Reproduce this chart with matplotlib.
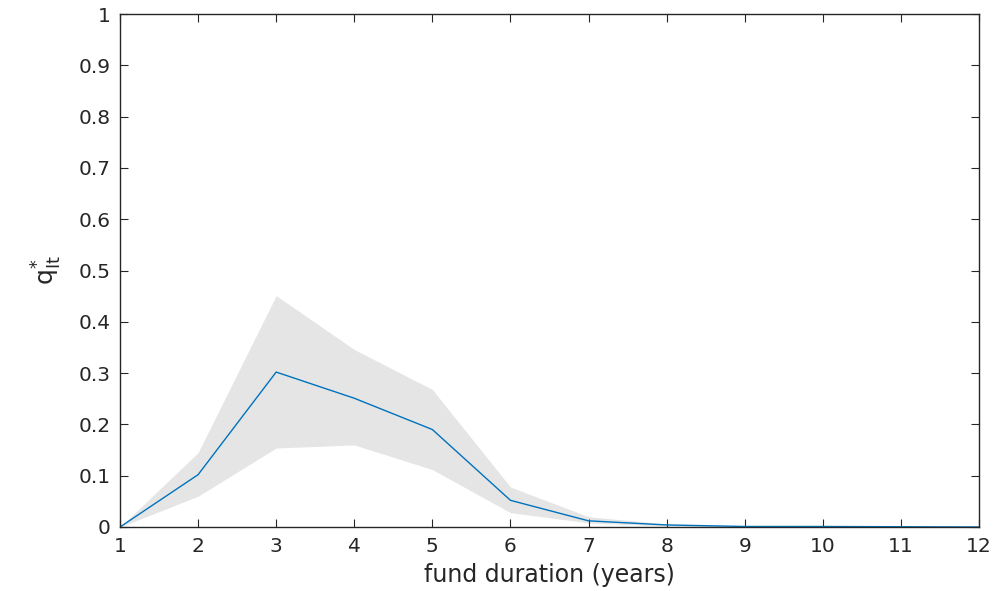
import matplotlib
matplotlib.use('Agg')
import matplotlib.pyplot as plt

plt.rcParams['font.family'] = ['DejaVu Sans']
plt.rcParams['mathtext.fontset'] = 'dejavusans'

years = [1, 2, 3, 4, 5, 6, 7, 8, 9, 10, 11, 12]
q_mean = [0.0, 0.102, 0.302, 0.251, 0.190, 0.052, 0.012, 0.004, 0.001, 0.001, 0.0005, 0.0]
q_upper = [0.0, 0.145, 0.451, 0.346, 0.268, 0.078, 0.020, 0.006, 0.002, 0.0015, 0.001, 0.0]
q_lower = [0.0, 0.060, 0.154, 0.160, 0.112, 0.028, 0.008, 0.002, 0.0005, 0.0005, 0.0002, 0.0]
ytick_labels = ['0', '0.1', '0.2', '0.3', '0.4', '0.5', '0.6', '0.7', '0.8', '0.9', '1']

fig = plt.figure(figsize=(9.97, 5.91), dpi=100)
ax = fig.add_axes([120 / 997, 1 - 527 / 591, 859 / 997, 513 / 591])

ax.fill_between(years, q_lower, q_upper, color='#e5e5e5', linewidth=0)
ax.plot(years, q_mean, color='#0072bd', linewidth=1.0)

ax.set_xlim(1, 12)
ax.set_ylim(0, 1)
ax.set_xticks(years)
ax.set_yticks([i / 10 for i in range(11)])
ax.set_yticklabels(ytick_labels)
ax.tick_params(direction='in', top=True, right=True, length=6, width=0.8,
               labelsize=14.5, colors='#262626', pad=7)
for s in ax.spines.values():
    s.set_color('#262626')
    s.set_linewidth(1.0)

ax.set_xlabel('fund duration (years)', fontsize=17, color='#262626', labelpad=5)
ax.set_ylabel(r'$\mathrm{q}^{*}_{\mathrm{It}}$', fontsize=18, color='#262626', labelpad=10)

fig.savefig('out.png', dpi=100)
